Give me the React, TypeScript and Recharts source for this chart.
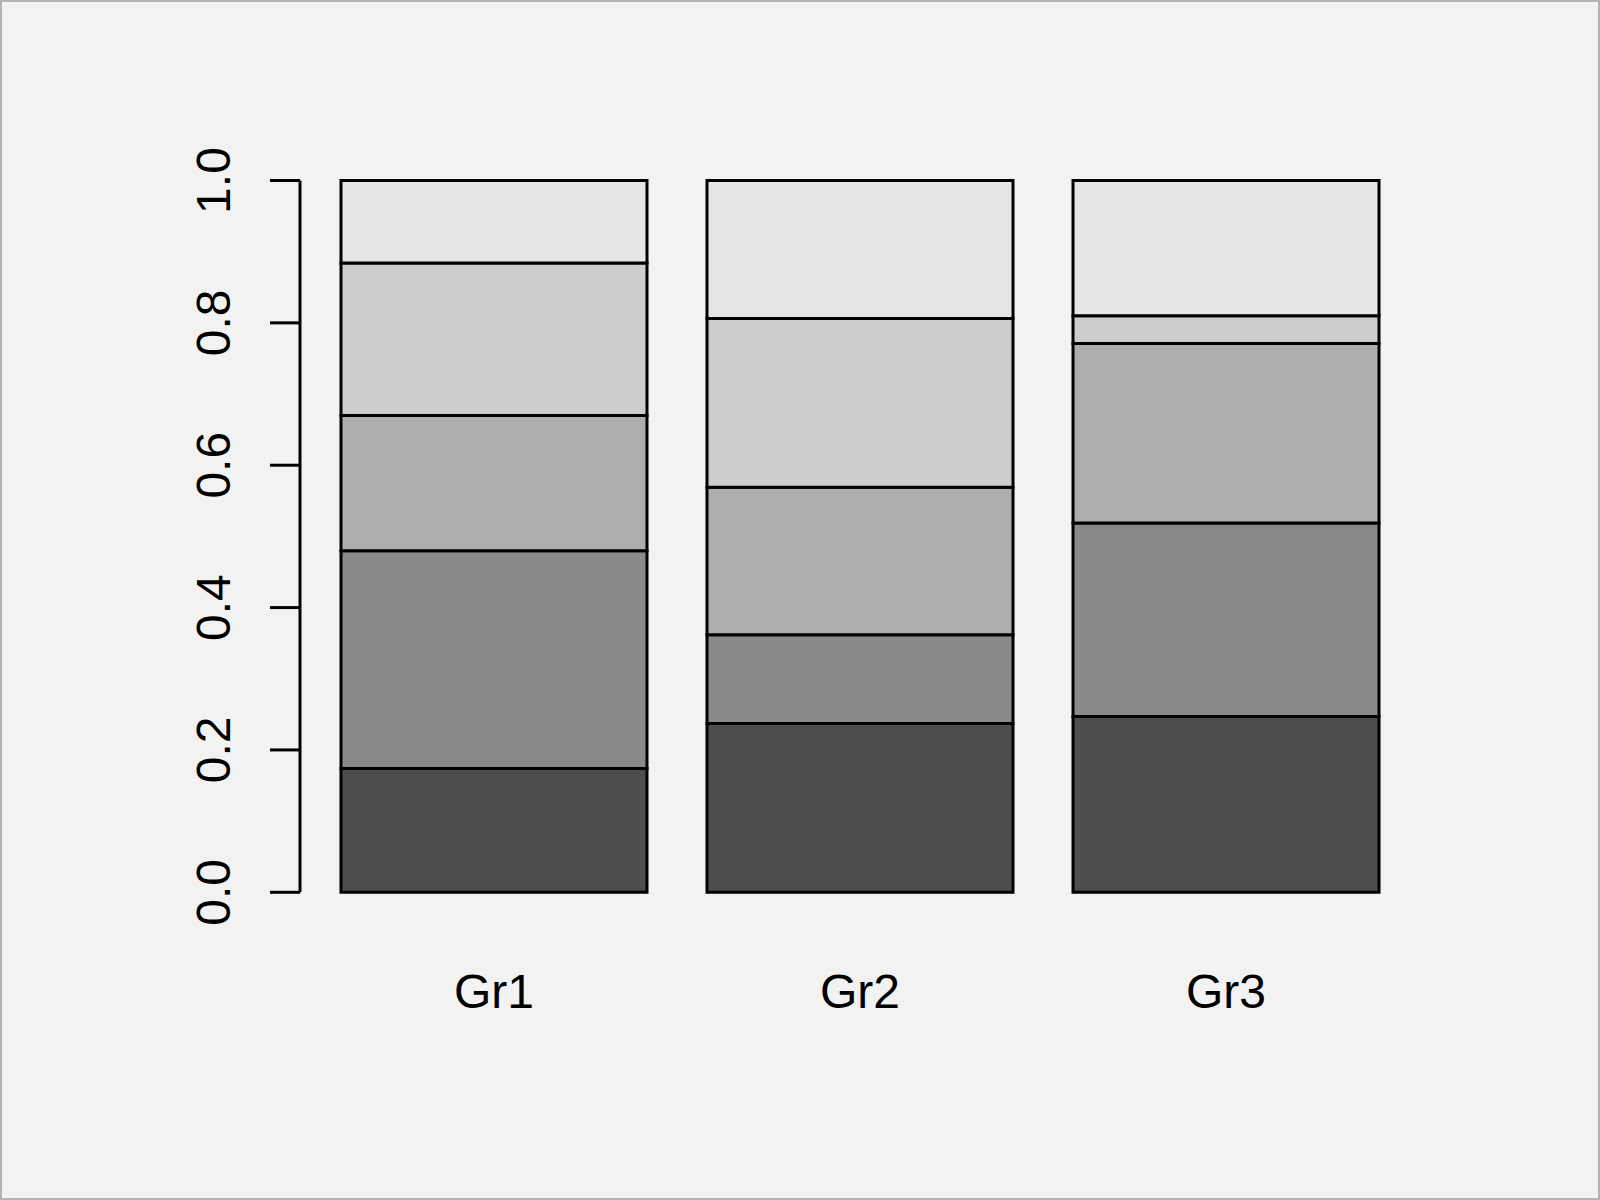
import React from "react";
import { Bar, BarChart, XAxis, YAxis } from "recharts";

const groups = ["Gr1", "Gr2", "Gr3"];
const part1 = [0.174, 0.237, 0.247];
const part2 = [0.306, 0.125, 0.272];
const part3 = [0.19, 0.207, 0.252];
const part4 = [0.214, 0.237, 0.039];
const part5 = [0.116, 0.194, 0.19];
const yTicks = [0, 0.2, 0.4, 0.6, 0.8, 1];

const greys = ["#4D4D4D", "#898989", "#AEAEAE", "#CCCCCC", "#E6E6E6"];
const keys = ["p1", "p2", "p3", "p4", "p5"];

const W = 1600;
const H = 1200;
const PLOT_LEFT = 300;
const PLOT_RIGHT = 1420;
const PLOT_TOP = 180.5;
const PLOT_BOTTOM = 892.3;
const Y_AXIS_W = 100;
const X_AXIS_H = 120;
const FONT = "'Liberation Sans', Arial, sans-serif";

const rows = groups.map((g, i) => ({
  name: g,
  p1: part1[i],
  p2: part2[i],
  p3: part3[i],
  p4: part4[i],
  p5: part5[i],
}));

function YTick(props: any) {
  const { y, payload } = props;
  const x = PLOT_LEFT - 70;
  return (
    <text
      x={x}
      y={y}
      transform={`rotate(-90, ${x}, ${y})`}
      textAnchor="middle"
      fontSize={48}
      fontFamily={FONT}
      fill="#000"
    >
      {payload.value.toFixed(1)}
    </text>
  );
}

function XTick(props: any) {
  const { x, payload } = props;
  return (
    <text x={x} y={PLOT_BOTTOM + 116} textAnchor="middle" fontSize={48} fontFamily={FONT} fill="#000">
      {payload.value}
    </text>
  );
}

export default function App() {
  return (
    <div style={{ position: "absolute", left: 0, top: 0, width: W, height: H, background: "#F2F2F2" }}>
      <BarChart
        width={W}
        height={H}
        data={rows}
        margin={{
          top: PLOT_TOP,
          right: W - PLOT_RIGHT,
          bottom: H - PLOT_BOTTOM - X_AXIS_H,
          left: PLOT_LEFT - Y_AXIS_W,
        }}
      >
        <XAxis
          dataKey="name"
          height={X_AXIS_H}
          axisLine={false}
          tickLine={false}
          padding={{ left: 11, right: 11 }}
          tick={<XTick />}
          interval={0}
        />
        <YAxis
          width={Y_AXIS_W}
          domain={[0, 1]}
          ticks={yTicks}
          tickSize={30}
          axisLine={{ stroke: "#000", strokeWidth: 3 }}
          tickLine={{ stroke: "#000", strokeWidth: 3 }}
          tick={<YTick />}
          interval={0}
        />
        {keys.map((k, i) => (
          <Bar
            key={k}
            dataKey={k}
            stackId="a"
            barSize={306}
            fill={greys[i]}
            stroke="#000"
            strokeWidth={3}
            isAnimationActive={false}
          />
        ))}
      </BarChart>
      <div
        style={{
          position: "absolute",
          left: 0,
          top: 0,
          width: W,
          height: H,
          boxSizing: "border-box",
          border: "2px solid #B3B3B3",
          pointerEvents: "none",
        }}
      />
    </div>
  );
}
